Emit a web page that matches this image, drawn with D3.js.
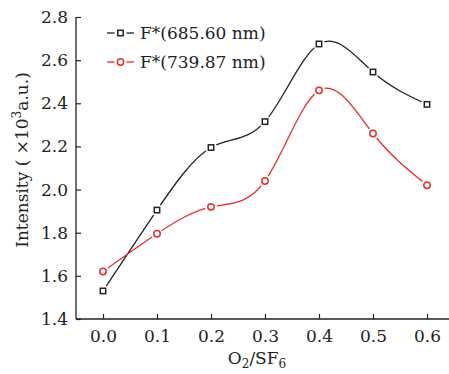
<!DOCTYPE html>
<html>
<head>
<meta charset="utf-8">
<script src="https://cdn.jsdelivr.net/npm/d3@7"></script>
<style>
  body { margin: 0; background: #fff; }
  text { font-family: "DejaVu Serif", serif; fill: #222; }
</style>
</head>
<body>
<svg id="chart" width="449" height="374"></svg>
<script>
var ratios = [0.0, 0.1, 0.2, 0.3, 0.4, 0.5, 0.6];
var f685 = [1.53, 1.905, 2.195, 2.315, 2.675, 2.545, 2.395];
var f739 = [1.62, 1.795, 1.92, 2.04, 2.46, 2.26, 2.02];
var yTicks = [1.4, 1.6, 1.8, 2.0, 2.2, 2.4, 2.6, 2.8];
var legendNames = ["F*(685.60 nm)", "F*(739.87 nm)"];

var svg = d3.select("#chart");
var mLeft = 76, mRight = 449, mTop = 17, mBottom = 319;

var x = d3.scaleLinear().domain([-0.05, 0.64]).range([mLeft, mLeft + 0.69 * 540]);
var y = d3.scaleLinear().domain([1.4, 2.8]).range([mBottom, mTop]);

// axes
var xAxis = d3.axisBottom(x).tickValues(ratios).tickSize(-5).tickPadding(11)
  .tickFormat(d3.format(".1f"));
var yAxis = d3.axisLeft(y).tickValues(yTicks).tickSize(-5).tickPadding(8)
  .tickFormat(d3.format(".1f"));

var gx = svg.append("g").attr("transform", "translate(0," + mBottom + ")").call(xAxis);
var gy = svg.append("g").attr("transform", "translate(" + mLeft + ",0)").call(yAxis);
[gx, gy].forEach(function(g){
  g.select(".domain").attr("stroke", "#222").attr("stroke-width", 1.3);
  g.selectAll(".tick line").attr("stroke", "#222").attr("stroke-width", 1.2);
  g.selectAll(".tick text").style("font-size", "17px").style("font-family", "DejaVu Serif").attr("fill", "#222");
});
gx.select(".domain").attr("d", "M" + mLeft + ",0H" + mRight);
gy.select(".domain").attr("d", "M0," + mBottom + "V" + mTop);

// titles
svg.append("text").attr("x", 257).attr("y", 364).attr("text-anchor", "middle")
  .style("font-size", "17px")
  .html('O<tspan font-size="12" dy="4">2</tspan><tspan dy="-4">/SF</tspan><tspan font-size="12" dy="4">6</tspan>');

svg.append("text").attr("transform", "translate(28,160) rotate(-90)").attr("text-anchor", "middle")
  .style("font-size", "17px")
  .html('Intensity ( ×10<tspan font-size="12" dy="-7">3</tspan><tspan dy="7">a.u.)</tspan>');

var series = [
  {vals: f685, color: "#222", shape: "square"},
  {vals: f739, color: "#ee2a2a", shape: "circle"}
];

// smooth spline through the points, like the original plot
var line = d3.line().curve(d3.curveNatural)
  .x(function(d){ return x(d[0]); }).y(function(d){ return y(d[1]); });

function marker(g, shape, color, cx, cy) {
  g.append("circle").attr("cx", cx).attr("cy", cy).attr("r", 6).attr("fill", "#fff");
  if (shape === "square") {
    g.append("rect").attr("x", cx - 2.7).attr("y", cy - 2.7).attr("width", 5.4).attr("height", 5.4)
      .attr("fill", "#fff").attr("stroke", color).attr("stroke-width", 1.5);
  } else {
    g.append("circle").attr("cx", cx).attr("cy", cy).attr("r", 3.2)
      .attr("fill", "#fff").attr("stroke", color).attr("stroke-width", 1.5);
  }
}

series.forEach(function(s){
  var pts = ratios.map(function(r, i){ return [r, s.vals[i]]; });
  svg.append("path").attr("d", line(pts)).attr("fill", "none")
    .attr("stroke", s.color).attr("stroke-width", 1.3);
  var g = svg.append("g");
  pts.forEach(function(p){ marker(g, s.shape, s.color, x(p[0]), y(p[1])); });
});

// legend
series.forEach(function(s, i){
  var ly = 33 + i * 29;
  var g = svg.append("g");
  g.append("line").attr("x1", 107).attr("x2", 134).attr("y1", ly).attr("y2", ly)
    .attr("stroke", s.color).attr("stroke-width", 1.3);
  marker(g, s.shape, s.color, 120.5, ly);
  g.append("text").attr("x", 140).attr("y", ly + 6).style("font-size", "17px").text(legendNames[i]);
});
</script>
</body>
</html>
